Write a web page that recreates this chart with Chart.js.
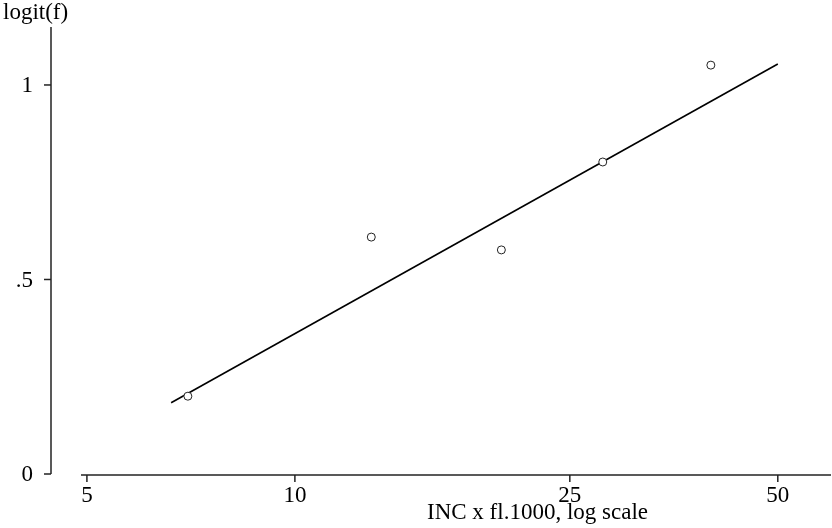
<!DOCTYPE html>
<html>
<head>
<meta charset="utf-8">
<script src="https://cdn.jsdelivr.net/npm/chart.js@4/dist/chart.umd.min.js"></script>
<style>
  html, body { margin: 0; padding: 0; background: #fff; }
  #wrap { width: 832px; height: 528px; }
</style>
</head>
<body>
<div id="wrap"><canvas id="c"></canvas></div>
<script>
// observed points
const incValues = [7.0, 12.9, 19.9, 27.9, 40.0];
const logitValues = [0.20, 0.609, 0.576, 0.802, 1.051];

// fitted line ends
const fitX = [6.62, 50];
const fitY = [0.183, 1.054];

const xTicks = [5, 10, 25, 50];
const yTicks = [0, 0.5, 1];
const yTickLabels = ['0', '.5', '1'];
const xTitle = 'INC x fl.1000, log scale';
const yTitle = 'logit(f)';

const FONT = '23px "Liberation Serif", "Times New Roman", serif';

// axes drawn by hand, Stata style (separate x and y lines)
const axesPlugin = {
  id: 'stataAxes',
  afterDraw(chart) {
    const ctx = chart.ctx;
    const xs = chart.scales.x, ys = chart.scales.y;
    const area = chart.chartArea;
    ctx.save();
    ctx.strokeStyle = '#222';
    ctx.lineWidth = 1.5;
    ctx.fillStyle = '#000';
    ctx.font = FONT;

    // y axis
    ctx.beginPath();
    ctx.moveTo(area.left, area.top);
    ctx.lineTo(area.left, area.bottom);
    ctx.stroke();
    ctx.textAlign = 'right';
    ctx.textBaseline = 'middle';
    yTicks.forEach((v, i) => {
      const y = ys.getPixelForValue(v);
      ctx.beginPath();
      ctx.moveTo(area.left - 7, y);
      ctx.lineTo(area.left, y);
      ctx.stroke();
      ctx.fillText(yTickLabels[i], area.left - 18, y + 1);
    });

    // x axis
    ctx.beginPath();
    ctx.moveTo(81, area.bottom + 1);
    ctx.lineTo(area.right, area.bottom + 1);
    ctx.stroke();
    ctx.textAlign = 'center';
    ctx.textBaseline = 'alphabetic';
    xTicks.forEach(v => {
      const x = xs.getPixelForValue(v);
      ctx.beginPath();
      ctx.moveTo(x, area.bottom + 1);
      ctx.lineTo(x, area.bottom + 8);
      ctx.stroke();
      ctx.fillText(String(v), x, area.bottom + 28);
    });

    // titles
    ctx.textAlign = 'left';
    ctx.fillText(xTitle, 427, 519);
    ctx.fillText(yTitle, 3, 19);
    ctx.restore();
  }
};

new Chart(document.getElementById('c'), {
  type: 'scatter',
  data: {
    datasets: [
      {
        label: 'fit',
        data: fitX.map((x, i) => ({ x, y: fitY[i] })),
        showLine: true,
        borderColor: '#000',
        borderWidth: 1.6,
        pointRadius: 0,
        order: 2
      },
      {
        label: 'logit(f)',
        data: incValues.map((x, i) => ({ x, y: logitValues[i] })),
        pointRadius: 4,
        pointBorderWidth: 1,
        pointBorderColor: '#222',
        pointBackgroundColor: '#fff',
        order: 1
      }
    ]
  },
  options: {
    responsive: true,
    maintainAspectRatio: false,
    animation: false,
    layout: { autoPadding: false, padding: { left: 51, right: 1, top: 27, bottom: 54 } },
    scales: {
      x: { type: 'logarithmic', min: 4.436, max: 59.7, display: false },
      y: { type: 'linear', min: 0, max: 1.149, display: false }
    },
    plugins: {
      legend: { display: false },
      tooltip: { enabled: false }
    }
  },
  plugins: [axesPlugin]
});
</script>
</body>
</html>
